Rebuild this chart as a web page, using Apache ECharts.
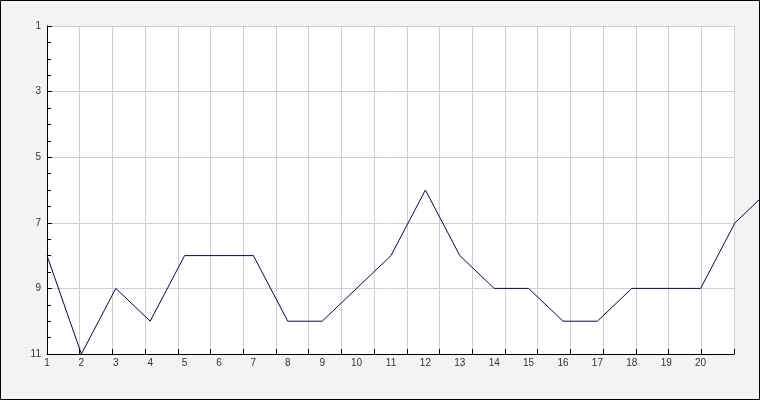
<!DOCTYPE html>
<html>
<head>
<meta charset="utf-8">
<script src="https://cdn.jsdelivr.net/npm/echarts@6/dist/echarts.min.js"></script>
<style>
html,body{margin:0;padding:0;background:#f3f3f3;}
#chart{width:760px;height:400px;}
</style>
</head>
<body>
<div id="chart"></div>
<script>
const xValues = [1,2,3,4,5,6,7,8,9,10,11,12,13,14,15,16,17,18,19,20,21,22];
const yValues = [8,11,9,10,8,8,8,10,10,9,8,6,8,9,9,10,10,9,9,9,7,6];
const xLabels = ['1','2','3','4','5','6','7','8','9','10','11','12','13','14','15','16','17','18','19','20'];
const yTicks = [1,3,5,7,9,11];

const chart = echarts.init(document.getElementById('chart'), null, {renderer:'canvas'});
const labelFont = {fontFamily:'Liberation Sans', fontSize:10, color:'#333'};
chart.setOption({
  animation:false,
  backgroundColor:'#f3f3f3',
  graphic:[{type:'rect', z:100, silent:true, shape:{x:0.5,y:0.5,width:759,height:399}, style:{fill:'none', stroke:'#000', lineWidth:1}}],
  grid:[
    {left:47, right:26, top:26, bottom:46, show:true, backgroundColor:'#fff', borderWidth:0, outerBoundsMode:'none'},
    {left:47, width:722.4, top:26, bottom:46, show:false, outerBoundsMode:'none', containLabel:false}
  ],
  xAxis:[
    {type:'value', gridIndex:0, position:'bottom', min:0, max:21, interval:1,
     axisLine:{show:true, lineStyle:{color:'#000', width:1}},
     axisTick:{show:true, inside:true, length:5, lineStyle:{color:'#000'}},
     axisLabel:{show:false},
     splitLine:{show:true, lineStyle:{color:'#d0d0d0', width:1}}},
    {type:'value', gridIndex:1, position:'bottom', min:1, max:22, interval:1,
     axisLine:{show:false}, axisTick:{show:false}, splitLine:{show:false},
     axisLabel:Object.assign({margin:4,
       formatter:function(v){ const i = Math.round(v)-1; return xLabels[i] !== undefined ? xLabels[i] : ''; }}, labelFont)}
  ],
  yAxis:[
    {type:'value', gridIndex:0, inverse:true, min:yTicks[0], max:yTicks[yTicks.length-1], interval:2,
    axisLine:{show:true, lineStyle:{color:'#000', width:1}},
    axisTick:{show:true, inside:true, length:5, lineStyle:{color:'#000'}},
    minorTick:{show:true, splitNumber:4, length:4, lineStyle:{color:'#000'}},
    splitLine:{show:true, lineStyle:{color:'#d0d0d0', width:1}},
    axisLabel:Object.assign({margin:6}, labelFont)},
    {type:'value', gridIndex:1, inverse:true, min:yTicks[0], max:yTicks[yTicks.length-1], show:false}
  ],
  series:[{type:'line', xAxisIndex:1, yAxisIndex:1, clip:false, symbol:'none',
    lineStyle:{color:'#000080', width:1},
    data:xValues.map((x,i)=>[x, yValues[i]])}]
});
</script>
</body>
</html>
